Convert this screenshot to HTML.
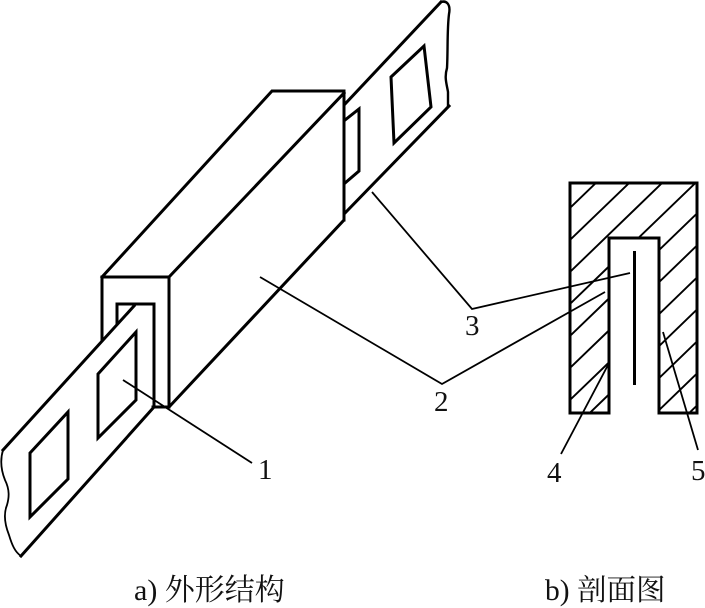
<!DOCTYPE html>
<html><head><meta charset="utf-8">
<style>
html,body{margin:0;padding:0;background:#fff;width:705px;height:608px;overflow:hidden}
svg{display:block;filter:blur(.35px)}
text{font-family:"Liberation Serif","Noto Serif CJK SC",serif;fill:#111}
</style></head>
<body>
<svg width="705" height="608" viewBox="0 0 705 608" xmlns="http://www.w3.org/2000/svg">
<defs>
<clipPath id="sec"><path d="M570 183H697V413H659V238H609V413H570Z"/></clipPath>
</defs>
<g fill="none" stroke="#000" stroke-width="3" stroke-linejoin="miter" stroke-linecap="square">
<!-- housing -->
<path d="M102 340V277H169V407H153"/>
<path d="M102 277L272 91H344V220L169 407"/>
<path d="M169 277L344 93"/>
<path d="M117 323V304H154V404"/>
<path d="M344 91V220"/>
<!-- near strip -->
<path d="M3 450L134 306"/>
<path d="M21 556L154 407"/>
<path stroke-width="1.8" d="M3 450C0 460 1 470 5 480C10 490 9 498 7 505C3 515 5 525 9 535C12 545 15 552 21 556"/>
<path d="M98 374L136 332V400L98 438Z"/>
<path d="M30 453L68 412V479L30 517Z"/>
<!-- far strip -->
<path d="M345 104L441 2"/>
<path d="M345 213L449 106"/>
<path stroke-width="2.4" d="M441 2C446 0 451 4 449 14C447 30 448 50 447 68C444 78 447 85 448 92V106"/>
<path d="M391 77L424 46L431 107L394 143Z"/>
<path d="M345 120L359 109V171L345 183"/>
<!-- section -->
<path d="M570 183H697V413H659V238H609V413H570Z"/>
<path d="M634.500 251V385" stroke-linecap="butt"/>
</g>
<g clip-path="url(#sec)" stroke="#000" stroke-width="1.9" fill="none">
<path d="M570 208L630 150M570 240L680 134M570 272L720 127M570 304L740 140M570 336L740 172M570 368L740 204M570 400L740 236M570 432L740 268M570 464L740 300M570 496L740 332M570 528L740 364M570 560L740 396M570 592L740 428"/>
</g>
<g fill="none" stroke="#000" stroke-width="1.800">
<path d="M123 380L252 463"/>
<path d="M260 277L442 384L605 292"/>
<path d="M372 192L472 309L630 273"/>
<path d="M608 365L561 454"/>
<path d="M663 332L698 450"/>
</g>
<g font-size="29">
<text x="258" y="479">1</text>
<text x="434" y="411">2</text>
<text x="465" y="335">3</text>
<text x="547" y="482">4</text>
<text x="691" y="480">5</text>
</g>
<g font-size="30">
<text x="134" y="600">a) 外形结构</text>
<text x="545" y="600" font-size="29.500">b) 剖面图</text>
</g>
</svg>
</body></html>
